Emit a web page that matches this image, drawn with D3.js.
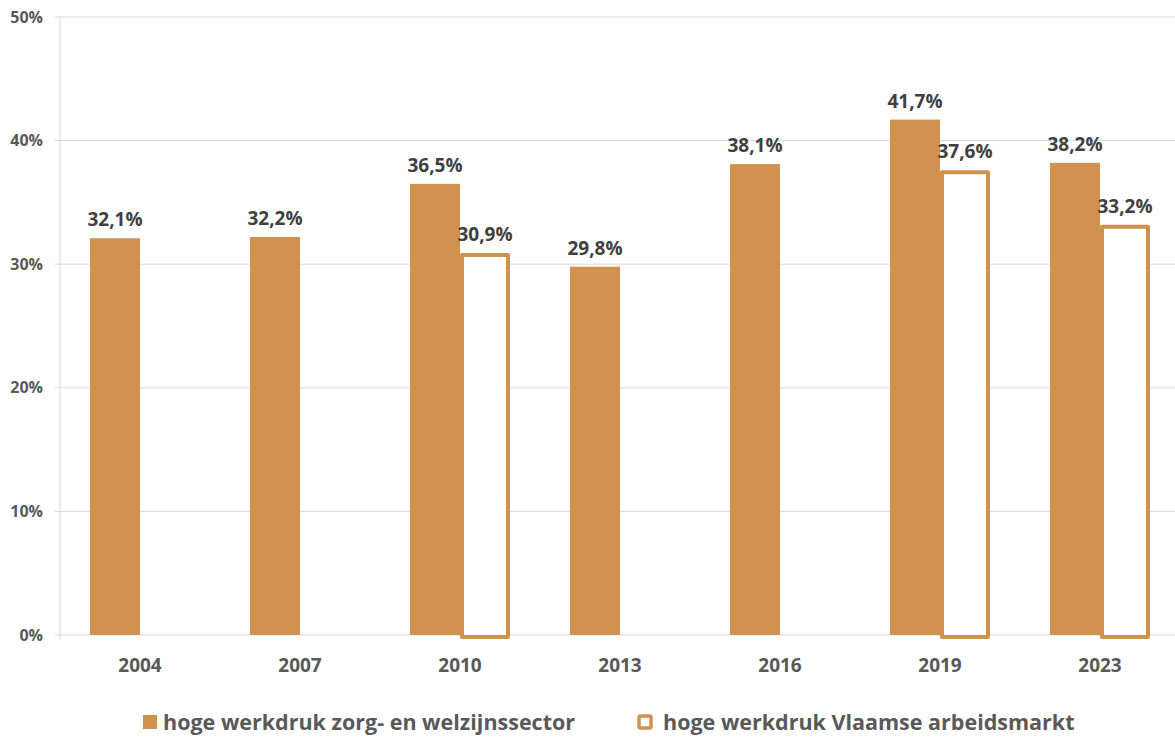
<!DOCTYPE html>
<html>
<head>
<meta charset="utf-8">
<script src="https://cdn.jsdelivr.net/npm/d3@7"></script>
<style>
  html, body { margin: 0; padding: 0; background: #fff; }
  svg { display: block; font-family: "Open Sans", "Noto Sans", sans-serif; }
</style>
</head>
<body>
<svg id="chart" width="1175" height="737"></svg>
<script>
// Share of workers reporting high work pressure
const years = ["2004", "2007", "2010", "2013", "2016", "2019", "2023"];
const careSector = [32.1, 32.2, 36.5, 29.8, 38.1, 41.7, 38.2];
const flemishMarket = [null, null, 30.9, null, null, 37.6, 33.2];
const yTicks = [0, 10, 20, 30, 40, 50];
const seriesNames = ["hoge werkdruk zorg- en welzijnssector", "hoge werkdruk Vlaamse arbeidsmarkt"];

const color = "#d1924f";
const svg = d3.select("#chart");
const margin = { left: 60, right: -5, top: 17, bottom: 102 };
const W = 1175, H = 737;

const x = d3.scaleBand().domain(years).range([margin.left, W - margin.right]).paddingInner(0.375).paddingOuter(0.1875);
const y = d3.scaleLinear().domain([0, 50]).range([H - margin.bottom, margin.top]);
const bw = x.bandwidth() / 2;

const fmt = v => d3.format(".1f")(v).replace(".", ",") + "%";

// gridlines
svg.append("g").selectAll("line").data(yTicks).join("line")
  .attr("x1", 55).attr("x2", W).attr("y1", d => y(d)).attr("y2", d => y(d))
  .attr("stroke", "#d9d9d9").attr("stroke-width", 1);
svg.append("line").attr("x1", margin.left).attr("x2", margin.left)
  .attr("y1", y(50)).attr("y2", y(0) + 5).attr("stroke", "#d9d9d9");

// y-axis labels
svg.append("g").selectAll("text").data(yTicks).join("text")
  .attr("x", 43).attr("y", d => y(d)).attr("dy", "0.35em")
  .attr("text-anchor", "end").attr("font-size", 16).attr("font-weight", 700)
  .attr("fill", "#595959").text(d => d + "%");

// x-axis labels
svg.append("g").selectAll("text").data(years).join("text")
  .attr("x", d => x(d) + x.bandwidth() / 2).attr("y", 672)
  .attr("text-anchor", "middle").attr("font-size", 19).attr("font-weight", 700)
  .attr("fill", "#595959").text(d => d);

// care sector bars
const care = years.map((yr, i) => ({ yr, v: careSector[i] }));
svg.append("g").selectAll("rect").data(care).join("rect")
  .attr("x", d => x(d.yr)).attr("width", bw)
  .attr("y", d => y(d.v)).attr("height", d => y(0) - y(d.v))
  .attr("fill", color);

// Flemish labour market bars (outlined)
const sw = 4;
const market = years.map((yr, i) => ({ yr, v: flemishMarket[i] })).filter(d => d.v != null);
svg.append("g").selectAll("rect").data(market).join("rect")
  .attr("x", d => x(d.yr) + bw + sw / 2).attr("width", bw - sw)
  .attr("y", d => y(d.v) + sw / 2).attr("height", d => y(0) - y(d.v))
  .attr("fill", "#fff").attr("stroke", color).attr("stroke-width", sw)
  .attr("stroke-linejoin", "round");

// value labels
const labelStyle = sel => sel.attr("text-anchor", "middle").attr("font-size", 19)
  .attr("font-weight", 700).attr("fill", "#404040");
svg.append("g").selectAll("text").data(care).join("text")
  .attr("x", d => x(d.yr) + bw / 2).attr("y", d => y(d.v) - 12)
  .call(labelStyle).text(d => fmt(d.v));
svg.append("g").selectAll("text").data(market).join("text")
  .attr("x", d => x(d.yr) + bw * 1.5).attr("y", d => y(d.v) - 12)
  .call(labelStyle).text(d => fmt(d.v));

// legend
const lg = svg.append("g");
lg.append("rect").attr("x", 143).attr("y", 715).attr("width", 14).attr("height", 14).attr("fill", color);
lg.append("text").attr("x", 163).attr("y", 730).attr("font-size", 21.5).attr("font-weight", 700)
  .attr("fill", "#595959").text(seriesNames[0]);
lg.append("rect").attr("x", 639).attr("y", 716).attr("width", 12).attr("height", 12)
  .attr("rx", 1.5).attr("fill", "#fff").attr("stroke", color).attr("stroke-width", 3.5);
lg.append("text").attr("x", 663).attr("y", 730).attr("font-size", 21.5).attr("font-weight", 700)
  .attr("fill", "#595959").text(seriesNames[1]);
</script>
</body>
</html>
